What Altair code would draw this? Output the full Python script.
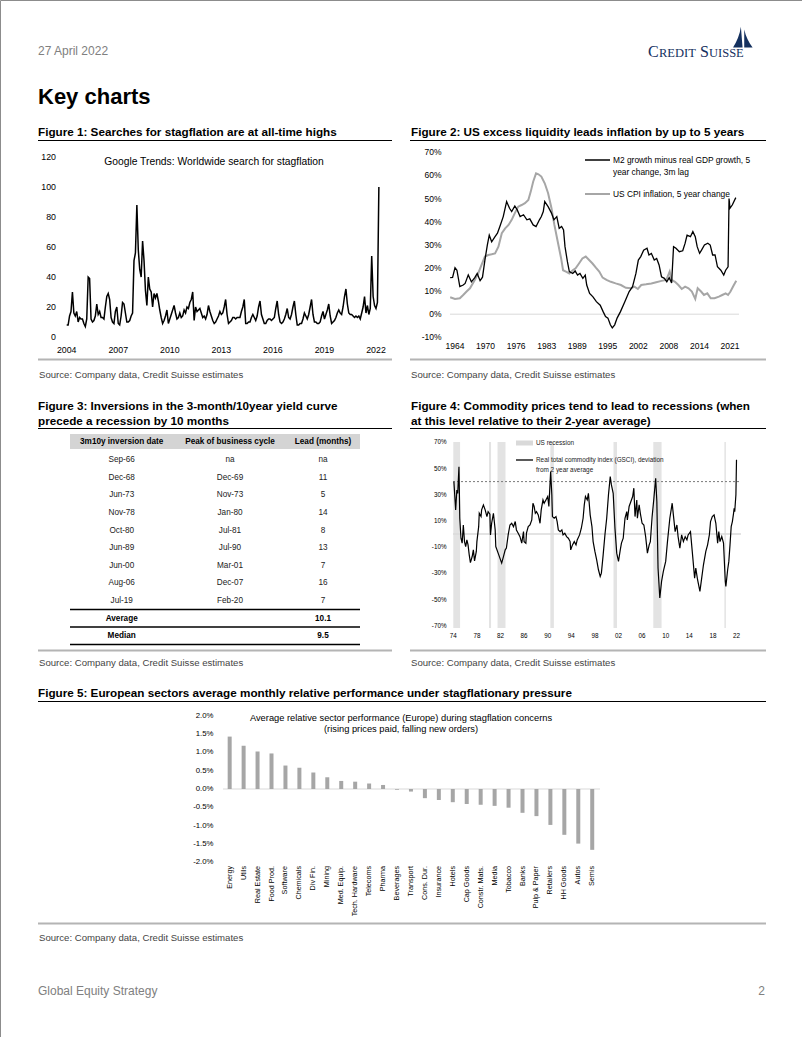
import altair as alt
import pandas as pd

SANS = "Liberation Sans, Arial, Helvetica, sans-serif"
SERIF = "Liberation Serif, Times New Roman, serif"

# ---------------- Figure 1: Google Trends (monthly, Jan 2004 - Mar 2022) ----------------
f1_start_year = 2004
f1_values = [
    8, 8, 14, 17, 30, 16, 14, 17, 10, 13, 12, 12,      # 2004
    9, 7, 12, 40, 39, 12, 10, 11, 14, 22, 15, 17,      # 2005
    13, 13, 12, 20, 27, 29, 25, 13, 10, 9, 17, 20,     # 2006
    9, 8, 14, 23, 22, 16, 10, 10, 11, 14, 16, 51,      # 2007
    56, 88, 58, 45, 40, 64, 51, 31, 21, 40, 32, 30,    # 2008
    20, 29, 26, 29, 24, 18, 13, 9, 11, 14, 18, 9,      # 2009
    12, 15, 18, 21, 16, 12, 13, 16, 13, 14, 18, 16,    # 2010
    20, 19, 23, 25, 30, 11, 20, 17, 18, 19, 16, 13,    # 2011
    14, 12, 15, 21, 17, 14, 11, 9, 10, 12, 14, 17,     # 2012
    15, 16, 20, 25, 15, 9, 10, 11, 13, 13, 12, 13,     # 2013
    13, 13, 17, 20, 25, 9, 9, 10, 10, 13, 15, 13,      # 2014
    11, 14, 20, 24, 15, 12, 9, 9, 11, 12, 12, 11,      # 2015
    12, 13, 19, 24, 15, 10, 9, 10, 12, 15, 19, 13,     # 2016
    12, 15, 20, 24, 15, 8, 8, 9, 9, 12, 16, 14,        # 2017
    12, 15, 20, 25, 15, 10, 10, 9, 9, 10, 14, 17,      # 2018
    12, 15, 18, 22, 14, 9, 10, 11, 13, 16, 18, 16,     # 2019
    15, 20, 27, 32, 22, 16, 15, 15, 14, 13, 14, 13,    # 2020
    14, 12, 16, 20, 27, 16, 21, 15, 19, 54, 27, 21,    # 2021
    19, 23, 100,                                       # 2022
]
f1_ytick_values = [0, 20, 40, 60, 80, 100, 120]
f1_xtick_values = [2004, 2007, 2010, 2013, 2016, 2019, 2022]
f1_xtick_labels = ["2004", "2007", "2010", "2013", "2016", "2019", "2022"]

# ---------------- Figure 2: M2 vs CPI (year, %) ----------------
f2_m2 = [(1963.0, 15.8), (1963.5, 15.9), (1964.0, 20.1), (1964.4, 19.0), (1965.0, 11.9), (1965.7, 12.6),
         (1966.1, 13.3), (1966.75, 17.0), (1967.4, 14.0), (1968.1, 15.8), (1968.6, 17.6), (1969.2, 14.5),
         (1969.7, 16.0), (1970.2, 23.4), (1970.7, 29.9), (1971.1, 34.2), (1971.6, 31.3), (1972.3, 33.5),
         (1972.8, 35.0), (1973.3, 37.9), (1974.0, 42.2), (1974.7, 48.7), (1975.3, 45.8), (1975.75, 44.4),
         (1976.4, 46.8), (1976.9, 45.1), (1977.5, 42.2), (1978.2, 43.0), (1978.9, 40.8), (1979.5, 41.2),
         (1980.2, 38.6), (1980.8, 37.9), (1981.5, 40.8), (1981.9, 42.2), (1982.3, 44.4), (1982.6, 48.7),
         (1983.3, 46.5), (1984.0, 43.7), (1984.5, 40.8), (1985.1, 42.2), (1985.6, 37.1), (1986.1, 37.9),
         (1986.5, 36.4), (1986.8, 29.2), (1987.3, 22.7), (1987.7, 18.4), (1988.4, 17.6), (1988.9, 18.7),
         (1989.4, 16.9), (1989.9, 17.6), (1990.5, 15.5), (1991.0, 16.9), (1991.3, 12.6), (1991.9, 9.0),
         (1992.6, 7.5), (1993.3, 5.4), (1994.1, 3.9), (1994.7, 1.1), (1995.2, -1.0), (1995.7, -1.7),
         (1996.2, -4.6), (1996.6, -5.9), (1997.1, -4.6), (1997.6, -1.7), (1998.3, 1.1), (1999.2, 5.4),
         (2000.1, 9.8), (2000.8, 11.9), (2001.5, 17.6), (2002.0, 23.4), (2002.5, 24.9), (2003.1, 27.7),
         (2003.8, 28.5), (2004.2, 25.6), (2004.7, 26.3), (2005.3, 23.4), (2005.8, 24.1), (2006.3, 21.3),
         (2006.8, 16.2), (2007.4, 15.5), (2007.9, 14.0), (2008.4, 15.8), (2008.9, 13.5), (2009.3, 29.2),
         (2009.8, 28.5), (2010.5, 27.0), (2011.2, 27.4), (2011.7, 30.7), (2012.1, 34.2), (2012.8, 33.5),
         (2013.3, 35.7), (2013.8, 33.5), (2014.2, 29.2), (2014.7, 26.3), (2015.1, 27.7), (2015.7, 29.9),
         (2016.4, 30.7), (2016.9, 29.9), (2017.4, 25.6), (2017.9, 25.6), (2018.4, 20.5), (2019.1, 19.0),
         (2019.7, 16.9), (2020.1, 19.0), (2020.6, 20.5), (2020.8, 50.0), (2021.0, 45.8), (2021.5, 47.3),
         (2022.2, 50.4)]
f2_cpi = [(1963.0, 7.3), (1964.0, 6.6), (1965.0, 6.9), (1965.7, 8.3), (1966.4, 9.8), (1967.1, 11.2),
          (1968.1, 14.8), (1968.8, 17.6), (1969.5, 21.3), (1970.2, 24.9), (1970.9, 25.6), (1971.6, 25.9),
          (1972.3, 26.3), (1973.0, 29.2), (1973.7, 35.0), (1974.4, 37.1), (1975.1, 38.6), (1975.75, 40.8),
          (1976.4, 43.7), (1977.1, 46.5), (1977.8, 47.2), (1978.5, 48.0), (1979.2, 49.4), (1979.7, 53.0),
          (1980.2, 57.3), (1980.8, 60.9), (1981.3, 60.5), (1981.9, 59.5), (1982.6, 56.6), (1983.3, 52.3),
          (1984.0, 45.8), (1984.6, 38.6), (1985.3, 31.3), (1986.0, 24.1), (1986.4, 19.0), (1987.0, 18.4),
          (1987.7, 17.6), (1988.4, 19.0), (1989.0, 19.8), (1989.7, 21.9), (1990.4, 24.1), (1991.1, 24.9),
          (1991.8, 23.4), (1992.5, 21.9), (1993.2, 20.1), (1993.9, 18.4), (1994.6, 15.8), (1995.4, 14.8),
          (1996.3, 14.0), (1997.3, 13.3), (1998.4, 12.6), (1999.4, 11.4), (2000.5, 11.2), (2001.2, 11.9),
          (2001.9, 10.9), (2002.6, 12.6), (2003.6, 12.9), (2004.7, 13.3), (2005.7, 13.8), (2006.8, 14.4),
          (2007.8, 14.8), (2008.5, 18.4), (2008.9, 14.8), (2009.6, 14.0), (2010.3, 12.6), (2011.0, 10.9),
          (2011.7, 11.9), (2012.4, 11.2), (2013.1, 9.8), (2013.8, 6.6), (2014.3, 11.2), (2015.0, 9.8),
          (2015.6, 8.3), (2016.3, 9.0), (2017.0, 6.9), (2017.8, 6.9), (2018.7, 7.6), (2019.4, 8.3),
          (2020.1, 9.0), (2020.6, 8.3), (2021.1, 9.8), (2021.8, 12.6), (2022.3, 14.5)]
f2_ytick_values = [70, 60, 50, 40, 30, 20, 10, 0, -10]
f2_ytick_labels = ["70%", "60%", "50%", "40%", "30%", "20%", "10%", "0%", "-10%"]
f2_xtick_values = [1964.0, 1970.33, 1976.67, 1983.0, 1989.33, 1995.67, 2002.0, 2008.33, 2014.67, 2021.0]
f2_xtick_labels = ["1964", "1970", "1976", "1983", "1989", "1995", "2002", "2008", "2014", "2021"]
f2_zero = [0]

# ---------------- Figure 3: table ----------------
f3_header = ["3m10y inversion date", "Peak of business cycle", "Lead (months)"]
f3_inversion = ["Sep-66", "Dec-68", "Jun-73", "Nov-78", "Oct-80", "Jun-89", "Jun-00", "Aug-06", "Jul-19"]
f3_peak = ["na", "Dec-69", "Nov-73", "Jan-80", "Jul-81", "Jul-90", "Mar-01", "Dec-07", "Feb-20"]
f3_lead = ["na", "11", "5", "14", "8", "13", "7", "16", "7"]
f3_summary_labels = ["Average", "Median"]
f3_summary_values = ["10.1", "9.5"]

# ---------------- Figure 4: commodities vs recessions ----------------
f4_series = [(1974.1, 40), (1974.4, 18.3), (1974.6, 33.6), (1974.75, 31), (1974.96, 51.4), (1975.1, 12),
             (1975.3, -3.2), (1975.5, -7), (1975.7, 6.9), (1975.9, -5.8), (1976.1, -9.6), (1976.3, -4.5),
             (1976.5, -8.3), (1976.7, -15.9), (1976.9, -21.9), (1977.2, -17.2), (1977.4, -12.1), (1977.6, -20.5),
             (1977.9, -13.3), (1978.0, -5.8), (1978.3, 5.6), (1978.4, 15.8), (1978.7, 13.3), (1978.8, 18.4),
             (1979.1, 22.2), (1979.4, 18.4), (1979.7, 13.3), (1979.9, 17.1), (1980.2, 15.1), (1980.3, -0.7),
             (1980.5, 8.2), (1980.8, 15.8), (1981.1, 3.1), (1981.2, -9.6), (1981.6, -14.6), (1981.9, -18.4),
             (1982.2, -22.2), (1982.5, -17.2), (1982.8, -12.1), (1983.0, -10.8), (1983.3, -0.7), (1983.6, 6.9),
             (1983.9, 8.2), (1984.2, 5.6), (1984.5, 9.5), (1984.7, 3.1), (1985.0, 0.6), (1985.3, -2.0),
             (1985.6, -7.0), (1985.9, 1.8), (1986.0, -5.8), (1986.3, -7.0), (1986.4, 0.6), (1986.7, 5.6),
             (1987.0, 6.9), (1987.3, 10.7), (1987.5, 23.5), (1987.7, 21.0), (1987.9, 15.8), (1988.1, 17.1),
             (1988.4, 14.6), (1988.7, 8.2), (1988.9, 18.4), (1989.2, 26.0), (1989.4, 23.5), (1989.7, 26.0),
             (1990.0, 28.6), (1990.2, 21.0), (1990.5, 47.6), (1990.7, 29.9), (1990.8, 13.3), (1991.1, 12.0),
             (1991.4, 13.3), (1991.6, 9.5), (1991.8, 3.1), (1992.1, 1.8), (1992.4, 3.1), (1992.6, -0.7),
             (1992.9, 0.6), (1993.2, -2.0), (1993.5, -3.2), (1993.8, -5.8), (1993.9, -12.1), (1994.2, -8.3),
             (1994.5, -5.8), (1994.8, -8.3), (1995.0, -4.5), (1995.4, -0.7), (1995.7, 4.4), (1996.0, 12.0),
             (1996.2, 22.2), (1996.4, 28.6), (1996.7, 26.0), (1996.9, 31.0), (1997.2, 14.6), (1997.5, 5.6),
             (1997.7, -5.8), (1998.0, -13.3), (1998.3, -19.7), (1998.6, -27.3), (1998.9, -32.4), (1999.1, -29.9),
             (1999.4, -15.9), (1999.7, -0.7), (2000.0, 12.0), (2000.3, 29.9), (2000.6, 43.8), (2000.8, 37.5),
             (2001.1, 31.0), (2001.4, 4.4), (2001.7, -14.6), (2002.0, -20.9), (2002.3, -12.1), (2002.5, -7.0),
             (2002.8, -3.2), (2003.1, 12.0), (2003.4, 17.1), (2003.5, 10.7), (2003.8, 21.0), (2004.1, 24.8),
             (2004.4, 28.6), (2004.6, 35.0), (2004.8, 13.3), (2005.1, 26.0), (2005.2, 12.0), (2005.5, 22.2),
             (2005.7, 15.8), (2006.0, 8.2), (2006.3, 6.9), (2006.6, -2.0), (2006.9, -14.6), (2007.2, -8.3),
             (2007.4, -5.8), (2007.7, 13.3), (2008.0, 27.3), (2008.3, 42.6), (2008.5, 24.8), (2008.7, -26.0),
             (2009.0, -48.9), (2009.3, -36.2), (2009.6, -28.6), (2010.0, -20.9), (2010.3, -5.8), (2010.7, 12.0),
             (2011.1, 23.5), (2011.3, 14.6), (2011.6, 1.8), (2011.9, 6.9), (2012.1, -2.0), (2012.4, -10.8),
             (2012.7, -0.7), (2013.0, -5.8), (2013.3, -2.0), (2013.6, -4.5), (2013.8, -0.7), (2014.2, 1.8),
             (2014.5, -13.3), (2014.9, -33.7), (2015.1, -26.0), (2015.4, -34.9), (2015.8, -43.8), (2016.1, -33.7),
             (2016.4, -23.5), (2016.8, -13.3), (2017.1, -8.3), (2017.4, -0.7), (2017.6, 9.5), (2017.9, 13.3),
             (2018.2, 14.6), (2018.5, 8.2), (2018.8, -7.0), (2019.0, 1.8), (2019.2, -5.8), (2019.5, -2.0),
             (2019.8, -7.0), (2020.1, -36.2), (2020.2, -40.0), (2020.5, -27.3), (2020.7, -20.9), (2020.9, -8.3),
             (2021.1, 5.6), (2021.3, 9.5), (2021.5, 15.8), (2021.6, 19.6), (2021.7, 17.1), (2021.9, 29.9),
             (2022.0, 56.6)]
f4_recession_start = [1974.0, 1980.05, 1981.5, 1990.45, 2001.15, 2007.9, 2019.95]
f4_recession_end = [1975.15, 1980.4, 1982.85, 1991.05, 2001.75, 2009.3, 2020.2]
f4_threshold = [40]
f4_zero = [0]
f4_ytick_values = [70, 50, 30, 10, -10, -30, -50, -70]
f4_ytick_labels = ["70%", "50%", "30%", "10%", "-10%", "-30%", "-50%", "-70%"]
f4_xtick_values = [1974, 1978, 1982, 1986, 1990, 1994, 1998, 2002, 2006, 2010, 2014, 2018, 2022]
f4_xtick_labels = ["74", "78", "82", "86", "90", "94", "98", "02", "06", "10", "14", "18", "22"]

# ---------------- Figure 5: European sectors ----------------
f5_sectors = ["Energy", "Utils", "Real Estate", "Food Prod.", "Software", "Chemicals", "Div Fin.", "Mining",
              "Med. Equip.", "Tech. Hardware", "Telecoms", "Pharma", "Beverages", "Transport", "Cons. Dur.",
              "Insurance", "Hotels", "Cap Goods", "Constr. Mats.", "Media", "Tobacco", "Banks", "Pulp & Paper",
              "Retailers", "HH Goods", "Autos", "Semis"]
f5_perf = [1.43, 1.18, 1.02, 0.97, 0.64, 0.58, 0.45, 0.32, 0.22, 0.20, 0.15, 0.11, -0.02, -0.07, -0.25,
           -0.30, -0.36, -0.41, -0.43, -0.46, -0.51, -0.65, -0.74, -0.98, -1.25, -1.49, -1.66]
f5_ytick_values = [2.0, 1.5, 1.0, 0.5, 0.0, -0.5, -1.0, -1.5, -2.0]
f5_ytick_labels = ["2.0%", "1.5%", "1.0%", "0.5%", "0.0%", "-0.5%", "-1.0%", "-1.5%", "-2.0%"]
f5_zero = [0]

# ---------------- helpers ----------------
ONE = [{"k": 1}]


def text_at(s, x, y, size, color="#000000", weight="normal", align="left", font=SANS, baseline="alphabetic"):
    return alt.Chart(alt.Data(values=ONE)).mark_text(
        text=s, fontSize=size, color=color, fontWeight=weight, align=align, baseline=baseline, font=font
    ).encode(x=alt.value(x), y=alt.value(y))


def hrule(x1, x2, y, color, width=1.0):
    return alt.Chart(alt.Data(values=ONE)).mark_rule(color=color, strokeWidth=width).encode(
        x=alt.value(x1), x2=alt.value(x2), y=alt.value(y))


def lin(domain, rng):
    return alt.Scale(domain=domain, range=rng, nice=False, zero=False)


layers = []

# ---------------- page header / footer ----------------
layers.append(text_at("27 April 2022", 38, 55, 12, color="#808080"))
layers.append(text_at("Key charts", 38, 104, 22, weight="bold"))
NAVY = "#14305e"
layers.append(text_at("C", 648, 57, 16, color=NAVY, font=SERIF))
layers.append(text_at("REDIT", 659, 57, 12.5, color=NAVY, font=SERIF))
layers.append(text_at("S", 700, 57, 16, color=NAVY, font=SERIF))
layers.append(text_at("UISSE", 709, 57, 12.5, color=NAVY, font=SERIF))
SAIL = "M -0.1 -1 C -0.2 -0.3 -0.45 0.3 -0.8 0.85 L 0.05 0.85 Z M 0.2 -0.75 C 0.35 -0.1 0.6 0.4 0.95 0.85 L 0.2 0.85 Z"
layers.append(alt.Chart(alt.Data(values=ONE)).mark_point(shape=SAIL, filled=True, color=NAVY, size=500, opacity=1, strokeWidth=0)
              .encode(x=alt.value(742), y=alt.value(38)))
layers.append(text_at("Global Equity Strategy", 38, 995, 12, color="#808080"))
layers.append(text_at("2", 765, 995, 12, color="#808080", align="right"))

SEP_GRAY = "#b4b4b4"
SRC = "Source: Company data, Credit Suisse estimates"
TITLE = 11.7

# ---------------- Figure 1 ----------------
layers.append(text_at("Figure 1: Searches for stagflation are at all-time highs", 38, 136, TITLE, weight="bold"))
layers.append(hrule(38, 392, 140.5, "#000000", 1))
layers.append(hrule(38, 392, 359.5, SEP_GRAY, 2))
layers.append(text_at(SRC, 39, 378, 9.6, color="#444444"))
layers.append(text_at("Google Trends: Worldwide search for stagflation", 214, 164.5, 10.3, align="center"))

X1 = lin([2004, 2022], [66.7, 376])
Y1 = lin([0, 120], [337, 157])
f1_df = pd.DataFrame({"t": [f1_start_year + i / 12 for i in range(len(f1_values))], "v": f1_values})
layers.append(alt.Chart(f1_df).mark_line(color="#000000", strokeWidth=1.5).encode(
    x=alt.X("t:Q", scale=X1, axis=None), y=alt.Y("v:Q", scale=Y1, axis=None)))
layers.append(alt.Chart(pd.DataFrame({"v": f1_ytick_values})).mark_text(
    align="right", baseline="middle", fontSize=8.8, font=SANS, color="#000000").encode(
    x=alt.value(56), y=alt.Y("v:Q", scale=Y1, axis=None), text="v:Q"))
layers.append(alt.Chart(pd.DataFrame({"t": f1_xtick_values, "lab": f1_xtick_labels})).mark_text(
    align="center", baseline="middle", fontSize=8.8, font=SANS, color="#000000").encode(
    x=alt.X("t:Q", scale=X1, axis=None), y=alt.value(349.5), text="lab:N"))

# ---------------- Figure 2 ----------------
layers.append(text_at("Figure 2: US excess liquidity leads inflation by up to 5 years", 411, 136, TITLE, weight="bold"))
layers.append(hrule(410, 766, 140.5, "#000000", 1))
layers.append(hrule(410, 766, 359.5, SEP_GRAY, 2))
layers.append(text_at(SRC, 411, 378, 9.6, color="#444444"))

X2 = lin([1964, 2021], [455, 730])
Y2 = lin([-10, 70], [337.3, 152.3])
layers.append(alt.Chart(pd.DataFrame({"v": f2_zero})).mark_rule(color="#d9d9d9", strokeWidth=1).encode(
    y=alt.Y("v:Q", scale=Y2, axis=None), x=alt.value(450), x2=alt.value(739)))
layers.append(alt.Chart(pd.DataFrame(f2_cpi, columns=["t", "v"])).mark_line(color="#a6a6a6", strokeWidth=2).encode(
    x=alt.X("t:Q", scale=X2, axis=None), y=alt.Y("v:Q", scale=Y2, axis=None)))
layers.append(alt.Chart(pd.DataFrame(f2_m2, columns=["t", "v"])).mark_line(color="#000000", strokeWidth=1.3).encode(
    x=alt.X("t:Q", scale=X2, axis=None), y=alt.Y("v:Q", scale=Y2, axis=None)))
layers.append(alt.Chart(pd.DataFrame({"v": f2_ytick_values, "lab": f2_ytick_labels})).mark_text(
    align="right", baseline="middle", fontSize=8.5, font=SANS, color="#000000").encode(
    x=alt.value(441.5), y=alt.Y("v:Q", scale=Y2, axis=None), text="lab:N"))
layers.append(alt.Chart(pd.DataFrame({"t": f2_xtick_values, "lab": f2_xtick_labels})).mark_text(
    align="center", baseline="middle", fontSize=8.5, font=SANS, color="#000000").encode(
    x=alt.X("t:Q", scale=X2, axis=None), y=alt.value(346), text="lab:N"))
layers.append(hrule(585, 610, 160, "#000000", 1.5))
layers.append(text_at("M2 growth minus real GDP growth, 5", 613, 160, 8.4, baseline="middle"))
layers.append(text_at("year change, 3m lag", 613, 171.5, 8.4, baseline="middle"))
layers.append(hrule(585, 610, 194, "#a6a6a6", 2))
layers.append(text_at("US CPI inflation, 5 year change", 613, 194, 8.4, baseline="middle"))

# ---------------- Figure 3 ----------------
TBL = 8.2
layers.append(text_at("Figure 3: Inversions in the 3-month/10year yield curve", 38, 410, TITLE, weight="bold"))
layers.append(text_at("precede a recession by 10 months", 38, 424.5, TITLE, weight="bold"))
layers.append(hrule(38, 392, 428.5, "#000000", 1))
layers.append(hrule(38, 392, 650.5, SEP_GRAY, 2))
layers.append(text_at(SRC, 39, 666, 9.6, color="#444444"))
layers.append(alt.Chart(alt.Data(values=ONE)).mark_rect(color="#d4d4d4").encode(
    x=alt.value(70), x2=alt.value(360), y=alt.value(434), y2=alt.value(449)))
col_x = [121.7, 230, 323]
for cx, h in zip(col_x, f3_header):
    layers.append(text_at(h, cx, 441.8, TBL, weight="bold", align="center", baseline="middle"))
f3_df = pd.DataFrame({"inv": f3_inversion, "peak": f3_peak, "lead": f3_lead})
ROWS = alt.Scale(type="point", domain=f3_inversion, range=[460, 601], padding=0)
for cx, col in zip(col_x, ["inv", "peak", "lead"]):
    layers.append(alt.Chart(f3_df).mark_text(fontSize=TBL, font=SANS, color="#222222", align="center", baseline="middle").encode(
        x=alt.value(cx), y=alt.Y("inv:N", scale=ROWS, axis=None, sort=None), text=f"{col}:N"))
layers.append(hrule(70, 360, 609.5, "#000000", 1.5))
layers.append(hrule(70, 360, 627, "#000000", 1.5))
layers.append(hrule(70, 360, 644.5, "#000000", 1.5))
f3s_df = pd.DataFrame({"lab": f3_summary_labels, "val": f3_summary_values})
SROWS = alt.Scale(type="point", domain=f3_summary_labels, range=[618.5, 636], padding=0)
layers.append(alt.Chart(f3s_df).mark_text(fontSize=TBL, font=SANS, fontWeight="bold", align="center", baseline="middle").encode(
    x=alt.value(121.7), y=alt.Y("lab:N", scale=SROWS, axis=None, sort=None), text="lab:N"))
layers.append(alt.Chart(f3s_df).mark_text(fontSize=TBL, font=SANS, fontWeight="bold", align="center", baseline="middle").encode(
    x=alt.value(323), y=alt.Y("lab:N", scale=SROWS, axis=None, sort=None), text="val:N"))

# ---------------- Figure 4 ----------------
layers.append(text_at("Figure 4: Commodity prices tend to lead to recessions (when", 411, 410, TITLE, weight="bold"))
layers.append(text_at("at this level relative to their 2-year average)", 411, 424.5, TITLE, weight="bold"))
layers.append(hrule(410, 766, 428.5, "#000000", 1))
layers.append(hrule(410, 766, 650.5, SEP_GRAY, 2))
layers.append(text_at(SRC, 411, 666, 9.6, color="#444444"))

X4 = lin([1974, 2022], [453.3, 736.5])
Y4 = lin([-70, 70], [625.7, 442.3])
layers.append(alt.Chart(pd.DataFrame({"s": f4_recession_start, "e": f4_recession_end})).mark_rect(color="#e3e3e3").encode(
    x=alt.X("s:Q", scale=X4, axis=None), x2="e:Q", y=alt.value(442), y2=alt.value(628)))
layers.append(alt.Chart(pd.DataFrame({"v": f4_zero})).mark_rule(color="#dadada", strokeWidth=1.5).encode(
    y=alt.Y("v:Q", scale=Y4, axis=None), x=alt.value(453), x2=alt.value(741)))
layers.append(alt.Chart(pd.DataFrame({"v": f4_threshold})).mark_rule(color="#7a7a7a", strokeWidth=1, strokeDash=[2, 2]).encode(
    y=alt.Y("v:Q", scale=Y4, axis=None), x=alt.value(453), x2=alt.value(741)))
layers.append(alt.Chart(pd.DataFrame(f4_series, columns=["t", "v"])).mark_line(color="#000000", strokeWidth=1.2).encode(
    x=alt.X("t:Q", scale=X4, axis=None), y=alt.Y("v:Q", scale=Y4, axis=None)))
layers.append(alt.Chart(pd.DataFrame({"v": f4_ytick_values, "lab": f4_ytick_labels})).mark_text(
    align="right", baseline="middle", fontSize=6.3, font=SANS, color="#000000").encode(
    x=alt.value(446.5), y=alt.Y("v:Q", scale=Y4, axis=None), text="lab:N"))
layers.append(alt.Chart(pd.DataFrame({"t": f4_xtick_values, "lab": f4_xtick_labels})).mark_text(
    align="center", baseline="middle", fontSize=6.3, font=SANS, color="#000000").encode(
    x=alt.X("t:Q", scale=X4, axis=None), y=alt.value(635.5), text="lab:N"))
layers.append(hrule(516, 533, 443, "#d9d9d9", 5))
layers.append(text_at("US recession", 536, 443, 6.4, color="#222222", baseline="middle"))
layers.append(hrule(516, 533, 460, "#000000", 1.3))
layers.append(text_at("Real total commodity index (GSCI), deviation", 536, 460, 6.4, color="#222222", baseline="middle"))
layers.append(text_at("from 2 year average", 536, 470, 6.4, color="#222222", baseline="middle"))

# ---------------- Figure 5 ----------------
layers.append(text_at("Figure 5: European sectors average monthly relative performance under stagflationary pressure",
                      38, 697, TITLE, weight="bold"))
layers.append(hrule(38, 766, 701.5, "#000000", 1))
layers.append(hrule(38, 766, 923.5, SEP_GRAY, 2))
layers.append(text_at(SRC, 39, 941, 9.6, color="#444444"))
layers.append(text_at("Average relative sector performance (Europe) during stagflation concerns", 401, 721, 9.3, align="center"))
layers.append(text_at("(rising prices paid, falling new orders)", 401, 732, 9.3, align="center"))

X5 = alt.Scale(type="band", domain=f5_sectors, range=[222.7, 599.2], paddingInner=0, paddingOuter=0)
Y5 = lin([-2, 2], [862.3, 715.7])
layers.append(alt.Chart(pd.DataFrame({"v": f5_zero})).mark_rule(color="#d9d9d9", strokeWidth=1).encode(
    y=alt.Y("v:Q", scale=Y5, axis=None), x=alt.value(223), x2=alt.value(600)))
f5_df = pd.DataFrame({"s": f5_sectors, "v": f5_perf})
layers.append(alt.Chart(f5_df).mark_bar(color="#a6a6a6", width=4).encode(
    x=alt.X("s:N", scale=X5, axis=None, sort=None), y=alt.Y("v:Q", scale=Y5, axis=None), y2=alt.datum(0)))
layers.append(alt.Chart(f5_df).mark_text(angle=270, align="right", baseline="middle", fontSize=7.2, font=SANS, color="#000000").encode(
    x=alt.X("s:N", scale=X5, axis=None, sort=None), y=alt.value(866), text="s:N"))
layers.append(alt.Chart(pd.DataFrame({"v": f5_ytick_values, "lab": f5_ytick_labels})).mark_text(
    align="right", baseline="middle", fontSize=7.8, font=SANS, color="#000000").encode(
    x=alt.value(213.5), y=alt.Y("v:Q", scale=Y5, axis=None), text="lab:N"))

chart = alt.layer(*layers).properties(
    width=802, height=1037, padding=0, background="white",
    autosize=alt.AutoSizeParams(type="none"),
).resolve_scale(x="independent", y="independent").configure_view(stroke="#8c8c8c", strokeWidth=1)

chart.save("out.html", embed_options={"renderer": "svg", "actions": False})
